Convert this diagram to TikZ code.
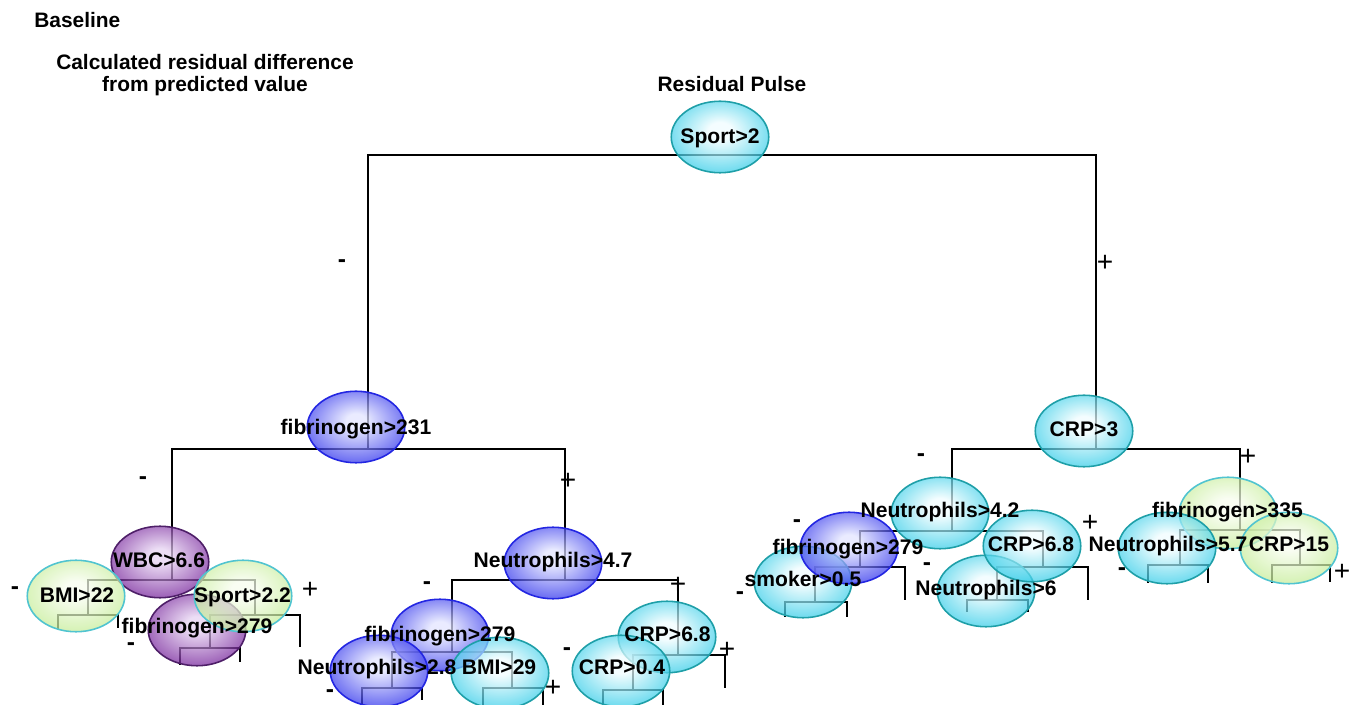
\documentclass[tikz,border=0pt]{standalone}
\usepackage{fontspec}
\setmainfont{Liberation Sans}
\usetikzlibrary{shapes.geometric}
\definecolor{cyO}{HTML}{40D0EA}
\definecolor{cyI}{HTML}{F0FDFF}
\definecolor{cyB}{HTML}{1E9FA8}
\definecolor{blO}{HTML}{3A3DEE}
\definecolor{blI}{HTML}{E2E4FF}
\definecolor{blB}{HTML}{2326E2}
\definecolor{puO}{HTML}{7C2CA0}
\definecolor{puI}{HTML}{E6D2F2}
\definecolor{puB}{HTML}{4E1F68}
\definecolor{grO}{HTML}{C8EE9C}
\definecolor{grI}{HTML}{F7FDEE}
\definecolor{grB}{HTML}{50C4D0}
\pgfdeclareradialshading{cyS}{\pgfpoint{0bp}{5bp}}{color(0bp)=(cyI); color(6bp)=(cyI); color(26bp)=(cyO); color(50bp)=(cyO)}
\pgfdeclareradialshading{blS}{\pgfpoint{0bp}{5bp}}{color(0bp)=(blI); color(5bp)=(blI); color(26bp)=(blO); color(50bp)=(blO)}
\pgfdeclareradialshading{puS}{\pgfpoint{0bp}{5bp}}{color(0bp)=(puI); color(5bp)=(puI); color(26bp)=(puO); color(50bp)=(puO)}
\pgfdeclareradialshading{grS}{\pgfpoint{0bp}{5bp}}{color(0bp)=(grI); color(6bp)=(grI); color(26bp)=(grO); color(50bp)=(grO)}
\begin{document}
\begin{tikzpicture}[x=0.02cm,y=-0.02cm,
  tl/.style={line width=1.1pt, black},
  ell/.style={ellipse, minimum width=1.95cm, minimum height=1.43cm, inner sep=0pt, fill opacity=0.72, line width=0.9pt},
  cyn/.style={ell, shading=cyS, draw=cyB},
  blu/.style={ell, shading=blS, draw=blB},
  pur/.style={ell, shading=puS, draw=puB},
  grn/.style={ell, shading=grS, draw=grB},
  lbl/.style={font=\bfseries\fontsize{12}{13}\selectfont, inner sep=0pt, anchor=base},
  ttl/.style={font=\bfseries\fontsize{11.9}{13}\selectfont, inner sep=0pt},
  sgnp/.style={font=\fontsize{16}{18}\selectfont, inner sep=0pt},
  sgnm/.style={font=\bfseries\fontsize{14}{16}\selectfont, inner sep=0pt, text height=0.33em, text depth=-0.2em}]
\useasboundingbox (0,0) rectangle (1350,705);
\clip (0,0) rectangle (1350,705);
\fill[white] (0,0) rectangle (1350,705);

% titles
\node[ttl, anchor=base west] (baseline) at (34,28) {Baseline};
\node[ttl, anchor=base] (calc1) at (205,70) {Calculated residual difference};
\node[ttl, anchor=base] (calc2) at (205,92) {from predicted value};
\node[ttl, anchor=base] (title) at (732,92) {Residual Pulse};

% split points
\coordinate (s-root) at (720,155);
\coordinate (s-fib231) at (368,449);
\coordinate (s-crp3) at (1096,449);
\coordinate (s-wbc) at (172,580);
\coordinate (s-bmi22) at (88,615);
\coordinate (s-sp22) at (255,615);
\coordinate (s-fibA) at (210,648);
\coordinate (s-n47) at (565,580);
\coordinate (s-fibB) at (452,652);
\coordinate (s-n28) at (392,688);
\coordinate (s-bmi29) at (512,688);
\coordinate (s-crpA) at (678,655);
\coordinate (s-crp04) at (633,690);
\coordinate (s-n42) at (952,531);
\coordinate (s-fibC) at (860,567);
\coordinate (s-smk) at (815,602);
\coordinate (s-crpB) at (1043,567);
\coordinate (s-n6) at (997,600);
\coordinate (s-fib335) at (1240,530);
\coordinate (s-n57) at (1180,565);
\coordinate (s-crp15) at (1300,565);
% leaf ends
\coordinate (l-bmi22a) at (58,630);
\coordinate (l-bmi22b) at (118,628);
\coordinate (l-sp22) at (300,647);
\coordinate (l-fibAa) at (180,665);
\coordinate (l-fibAb) at (240,662);
\coordinate (l-n28a) at (362,708);
\coordinate (l-n28b) at (422,700);
\coordinate (l-bmi29a) at (483,708);
\coordinate (l-bmi29b) at (543,708);
\coordinate (l-crpA) at (725,688);
\coordinate (l-crp04a) at (603,708);
\coordinate (l-crp04b) at (663,708);
\coordinate (l-fibC) at (905,600);
\coordinate (l-smka) at (785,617);
\coordinate (l-smkb) at (847,617);
\coordinate (l-crpB) at (1088,600);
\coordinate (l-n6a) at (967,612);
\coordinate (l-n6b) at (1028,612);
\coordinate (l-n57a) at (1148,583);
\coordinate (l-n57b) at (1208,583);
\coordinate (l-crp15a) at (1272,583);
\coordinate (l-crp15b) at (1330,582);

% connectors
\draw[tl] (s-fib231) |- (s-root) -| (s-crp3);
\draw[tl] (s-wbc) |- (s-fib231) -| (s-n47);
\draw[tl] (s-n42) |- (s-crp3) -| (s-fib335);
\draw[tl] (s-bmi22) |- (s-wbc) -| (s-sp22);
\draw[tl] (l-bmi22a) |- (s-bmi22) -| (l-bmi22b);
\draw[tl] (s-fibA) |- (s-sp22) -| (l-sp22);
\draw[tl] (l-fibAa) |- (s-fibA) -| (l-fibAb);
\draw[tl] (s-fibB) |- (s-n47) -| (s-crpA);
\draw[tl] (s-n28) |- (s-fibB) -| (s-bmi29);
\draw[tl] (l-n28a) |- (s-n28) -| (l-n28b);
\draw[tl] (l-bmi29a) |- (s-bmi29) -| (l-bmi29b);
\draw[tl] (s-crp04) |- (s-crpA) -| (l-crpA);
\draw[tl] (l-crp04a) |- (s-crp04) -| (l-crp04b);
\draw[tl] (s-fibC) |- (s-n42) -| (s-crpB);
\draw[tl] (s-smk) |- (s-fibC) -| (l-fibC);
\draw[tl] (l-smka) |- (s-smk) -| (l-smkb);
\draw[tl] (s-n6) |- (s-crpB) -| (l-crpB);
\draw[tl] (l-n6a) |- (s-n6) -| (l-n6b);
\draw[tl] (s-n57) |- (s-fib335) -| (s-crp15);
\draw[tl] (l-n57a) |- (s-n57) -| (l-n57b);
\draw[tl] (l-crp15a) |- (s-crp15) -| (l-crp15b);

% ellipses
\node[cyn] (e-root) at (720,137) {};
\node[blu] (e-fib231) at (356,427) {};
\node[cyn] (e-crp3) at (1084,431) {};
\node[pur] (e-wbc) at (160,562) {};
\node[grn] (e-bmi22) at (76,596) {};
\node[pur] (e-fibA) at (197,630) {};
\node[grn] (e-sp22) at (243,596) {};
\node[blu] (e-n47) at (553,563) {};
\node[blu] (e-fibB) at (440,635) {};
\node[blu] (e-n28) at (379,671) {};
\node[cyn] (e-bmi29) at (500,673) {};
\node[cyn] (e-crpA) at (667,637) {};
\node[cyn] (e-crp04) at (621,671) {};
\node[cyn] (e-n42) at (940,513) {};
\node[cyn] (e-smk) at (803,582) {};
\node[blu] (e-fibC) at (849,548) {};
\node[cyn] (e-n6) at (986,591) {};
\node[cyn] (e-crpB) at (1032,546) {};
\node[grn] (e-fib335) at (1228,513) {};
\node[cyn] (e-n57) at (1167,548) {};
\node[grn] (e-crp15) at (1289,548) {};

% texts
\node[lbl] (t-root) at (720,144) {Sport>2};
\node[lbl] (t-fib231) at (356,435) {fibrinogen>231};
\node[lbl] (t-crp3) at (1084,437) {CRP>3};
\node[lbl] (t-wbc) at (159,568) {WBC>6.6};
\node[lbl] (t-bmi22) at (77,603) {BMI>22};
\node[lbl] (t-sp22) at (242.5,603) {Sport>2.2};
\node[lbl] (t-fibA) at (197,634) {fibrinogen>279};
\node[lbl] (t-n47) at (553,568) {Neutrophils>4.7};
\node[lbl] (t-fibB) at (440,642) {fibrinogen>279};
\node[lbl] (t-n28) at (377,675) {Neutrophils>2.8};
\node[lbl] (t-bmi29) at (499,675) {BMI>29};
\node[lbl] (t-crpA) at (667.5,642) {CRP>6.8};
\node[lbl] (t-crp04) at (622,675) {CRP>0.4};
\node[lbl] (t-n42) at (940,518) {Neutrophils>4.2};
\node[lbl] (t-fibC) at (848,555) {fibrinogen>279};
\node[lbl] (t-smk) at (803,587) {smoker>0.5};
\node[lbl] (t-crpB) at (1031,552) {CRP>6.8};
\node[lbl] (t-n6) at (986,596) {Neutrophils>6};
\node[lbl] (t-fib335) at (1227.5,518) {fibrinogen>335};
\node[lbl] (t-n57) at (1168,552) {Neutrophils>5.7};
\node[lbl] (t-crp15) at (1289,552) {CRP>15};

% signs
\node[sgnm] (m1) at (342,265) {-};
\node[sgnp] (p1) at (1105,263) {+};
\node[sgnm] (m2) at (143,482) {-};
\node[sgnp] (p2) at (568,481) {+};
\node[sgnm] (m3) at (921,459) {-};
\node[sgnp] (p3) at (1248,457) {+};
\node[sgnm] (m4) at (15,592) {-};
\node[sgnp] (p4) at (310,590) {+};
\node[sgnm] (m5) at (131,648) {-};
\node[sgnm] (m6) at (427,587) {-};
\node[sgnp] (p6) at (678,585) {+};
\node[sgnm] (m7) at (330,695) {-};
\node[sgnp] (p7) at (553,688) {+};
\node[sgnm] (m8) at (567,653) {-};
\node[sgnp] (p8) at (727,650) {+};
\node[sgnm] (m9) at (797,525) {-};
\node[sgnp] (p9) at (1090,523) {+};
\node[sgnm] (m10) at (740,597) {-};
\node[sgnm] (m11) at (927,568) {-};
\node[sgnm] (m12) at (1122,573) {-};
\node[sgnp] (p12) at (1342,572) {+};
\end{tikzpicture}
\end{document}
